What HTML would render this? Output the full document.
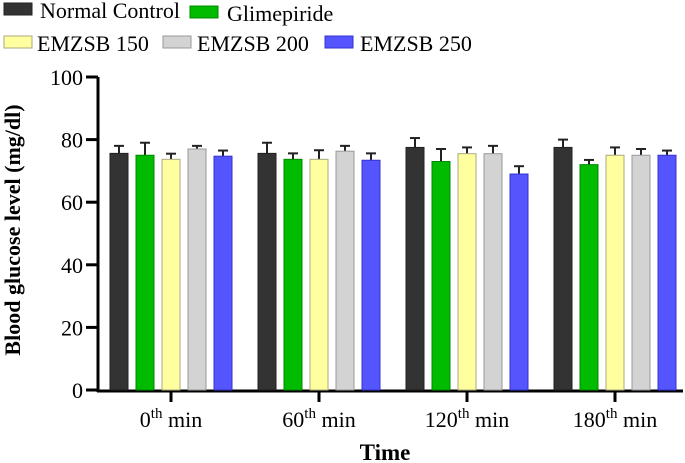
<!DOCTYPE html>
<html><head><meta charset="utf-8"><style>
body{margin:0;background:#fff;font-family:"Liberation Serif","Times New Roman",serif;}
svg{display:block;font-family:"Liberation Serif","Times New Roman",serif;}
svg text{font-family:"Liberation Serif","Times New Roman",serif !important;}
</style></head><body>
<svg id="chart" width="685" height="463" font-family="Liberation Serif, Times New Roman, serif">
<g id="legend"></g>
<g id="axes"></g>
<g id="bars"></g>
<text x="20" y="230" transform="rotate(-90 20 230)" text-anchor="middle" font-size="22" font-weight="bold" font-family="Liberation Serif, serif">Blood glucose level (mg/dl)</text>
<text x="385" y="460" text-anchor="middle" font-size="23" font-weight="bold" font-family="Liberation Serif, serif">Time</text>
</svg>
<script>
const categories = ["0", "60", "120", "180"];
const seriesNames = ["Normal Control", "Glimepiride", "EMZSB 150", "EMZSB 200", "EMZSB 250"];
const normalControl = [75.6, 75.6, 77.5, 77.5];
const glimepiride = [75, 73.7, 73, 72];
const emzsb150 = [73.7, 73.7, 75.5, 75];
const emzsb200 = [77, 76.3, 75.5, 75];
const emzsb250 = [74.7, 73.4, 69, 75];
const errNormal = [2.4, 3.4, 3, 2.5];
const errGlim = [4, 1.9, 4, 1.5];
const err150 = [1.8, 2.9, 2, 2.5];
const err200 = [1, 1.7, 2.5, 2];
const err250 = [1.8, 2.2, 2.5, 1.5];
const yTicks = [0, 20, 40, 60, 80, 100];

const series = [normalControl, glimepiride, emzsb150, emzsb200, emzsb250];
const errs = [errNormal, errGlim, err150, err200, err250];
const fills = ["#333333", "#00bb00", "#ffffa0", "#d3d3d3", "#5555ff"];
const strokes = ["#222", "#008800", "#aaa980", "#999", "#3333cc"];
const NS = "http://www.w3.org/2000/svg";
const FONT = "Liberation Serif, serif";
const y0 = 390, yTop = 77, x0 = 98, xEnd = 683;
const y = v => y0 - (v / 100) * (y0 - yTop);
const groupCenter = i => 171 + i * 148;
const barW = 18, pitch = 26;
function mk(tag, attrs, parent) { const e = document.createElementNS(NS, tag); for (const k in attrs) e.setAttribute(k, attrs[k]); parent.appendChild(e); return e; }
const axes = document.getElementById('axes'), bars = document.getElementById('bars'), legend = document.getElementById('legend');

const ya = mk('line', {x1: x0, y1: yTop, x2: x0, y2: y0 + 2, stroke: '#000', 'stroke-width': 3}, axes);


const xa = mk('line', {x1: x0 - 1, y1: y0 + 1, x2: xEnd, y2: y0 + 1, stroke: '#000', 'stroke-width': 3}, axes);


yTicks.forEach(t => {
  mk('line', {x1: 86, y1: y(t), x2: x0, y2: y(t), stroke: '#000', 'stroke-width': 3}, axes);
  const tx = mk('text', {x: 83, y: y(t) + 8, 'text-anchor': 'end', 'font-size': 22, 'font-family': FONT}, axes);
  tx.textContent = t;
  
  
});
categories.forEach((c, i) => {
  const cx = groupCenter(i);
  mk('line', {x1: cx, y1: y0, x2: cx, y2: y0 + 12, stroke: '#000', 'stroke-width': 3}, axes);
  const tx = mk('text', {x: cx, y: 427, 'text-anchor': 'middle', 'font-size': 22, 'font-family': FONT}, axes);
  tx.innerHTML = c + '<tspan dy="-9" font-size="15">th</tspan><tspan dy="9"> min</tspan>';
  
  
});
series.forEach((vals, s) => {
  vals.forEach((v, i) => {
    const bx = groupCenter(i) - 61 + s * pitch;
    const ey = y(v + errs[s][i]);
    mk('line', {x1: bx + barW / 2, y1: y(v), x2: bx + barW / 2, y2: ey, stroke: '#222', 'stroke-width': 2}, bars);
    mk('line', {x1: bx + barW / 2 - 5, y1: ey, x2: bx + barW / 2 + 5, y2: ey, stroke: '#222', 'stroke-width': 2}, bars);
    const r = mk('rect', {x: bx, y: y(v), width: barW, height: y0 - y(v), fill: fills[s], stroke: strokes[s], 'stroke-width': 1}, bars);
    
    
  });
});
const legPos = [[4, 3, 40], [190, 6, 227], [4, 36, 37], [163, 36, 197], [325, 36, 360]];
seriesNames.forEach((n, s) => {
  const [lx, ly, tx0] = legPos[s];
  mk('rect', {x: lx, y: ly, width: 28, height: 12, fill: fills[s], stroke: strokes[s]}, legend);
  const t = mk('text', {x: tx0, y: ly + 15, 'font-size': 22, 'font-family': FONT}, legend);
  t.textContent = n;
  
  
});
</script>
</body></html>
